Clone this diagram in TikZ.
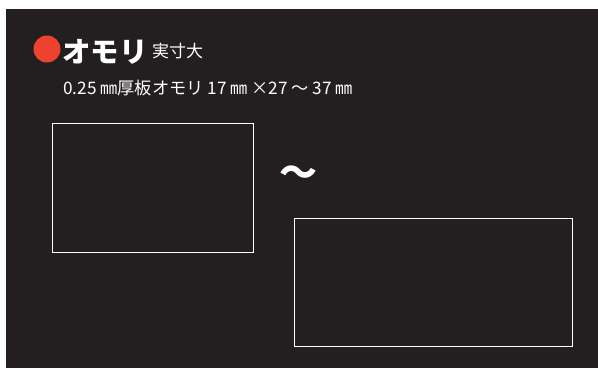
\documentclass[tikz,border=0pt]{standalone}
\usepackage{fontspec}
\newfontfamily\jp{Noto Sans CJK JP}
\newfontfamily\jpb{Noto Sans CJK JP Black}
\definecolor{bgdark}{HTML}{231F20}
\definecolor{dotred}{HTML}{EE4130}
\tikzset{
  sample/.style={draw=white, line width=1.2pt, inner sep=0pt, anchor=north west},
  label/.style={text=white, inner sep=0pt, anchor=base west}
}
\begin{document}
\begin{tikzpicture}[x=1pt,y=-1pt]
\useasboundingbox (0,0) rectangle (598,368);
\fill[white] (0,0) rectangle (598,368);
\fill[bgdark] (6,9) rectangle (598,368);
\fill[dotred] (47,49) circle (13.5);
\node[label, font=\jpb\fontsize{28.5}{28}\selectfont] (title) at (62,62) {オモリ};
\node[label, font=\jp\fontsize{17}{17}\selectfont] (sub) at (152,57) {実寸大};
\node[label, font=\jp\fontsize{17.2}{18}\selectfont] (desc) at (63,94.5) {0.25 ㎜厚板オモリ 17 ㎜ ×27 ～ 37 ㎜};
\node[sample, minimum width=201pt, minimum height=129pt] (small) at (51.5,122.5) {};
\node[sample, minimum width=278pt, minimum height=128pt] (large) at (294,218) {};
\node[text=white, inner sep=0pt, font=\jpb\fontsize{38}{38}\selectfont] (tilde) at (298,176) {～};
\end{tikzpicture}
\end{document}
